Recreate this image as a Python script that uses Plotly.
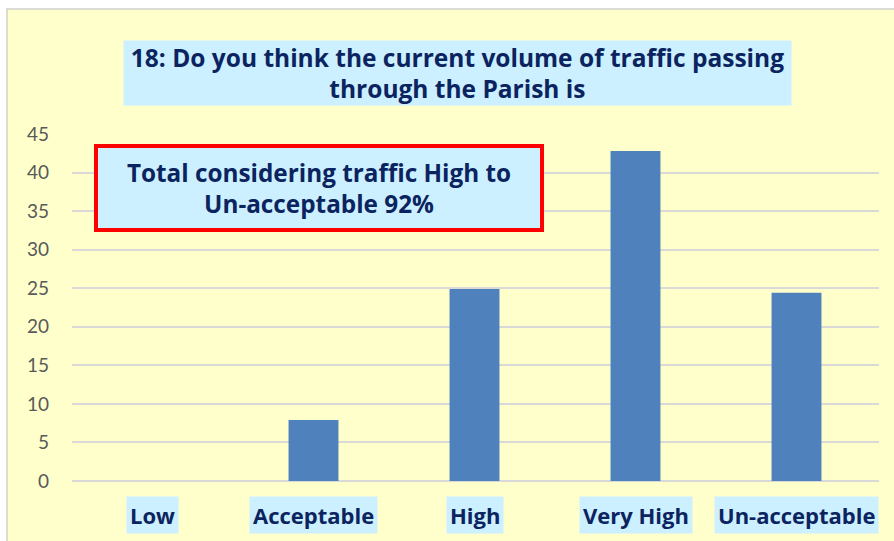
import plotly.graph_objects as go

categories = ["Low", "Acceptable", "High", "Very High", "Un-acceptable"]
values = [0, 7.9, 24.9, 42.8, 24.4]
y_ticks = [0, 5, 10, 15, 20, 25, 30, 35, 40, 45]
title_text = "18: Do you think the current volume of traffic passing<br>through the Parish is"
box_text = "Total considering traffic High to<br>Un-acceptable 92%"

W, H = 894, 541
L, R, T, B = 72, 15, 134, 60
PW, PH = W - L - R, H - T - B

def px(x):
    return (x - L) / PW

def py(y):
    return (H - B - y) / PH

NAVY = "#0B2460"
LIGHTBLUE = "#CCF0FF"
YELLOW = "#FFFFCC"
FONT = "Open Sans"

fig = go.Figure()
fig.add_trace(go.Bar(
    x=categories, y=values,
    marker=dict(color="#4F81BD", line=dict(width=0)),
    hoverinfo="x+y",
))

shapes = [
    dict(type="rect", xref="paper", yref="paper", x0=px(-5), x1=px(W + 5), y0=py(8.5), y1=py(-5),
         fillcolor="white", line=dict(width=0), layer="above"),
    dict(type="rect", xref="paper", yref="paper", x0=px(-5), x1=px(6), y0=py(H + 5), y1=py(-5),
         fillcolor="white", line=dict(width=0), layer="above"),
    dict(type="line", xref="paper", yref="paper", x0=px(6), x1=px(W + 5), y0=py(9), y1=py(9),
         line=dict(color="#D0D0D0", width=1.5), layer="above"),
    dict(type="line", xref="paper", yref="paper", x0=px(7), x1=px(7), y0=py(9), y1=py(H + 5),
         line=dict(color="#D0D0D0", width=1.5), layer="above"),
]

annotations = [
    dict(text="<b>" + title_text + "</b>", xref="paper", yref="paper",
         x=px(457.5), y=py(73.5), xanchor="center", yanchor="middle",
         showarrow=False, bgcolor=LIGHTBLUE, width=667, height=64, borderpad=0,
         font=dict(family=FONT, size=24.5, color=NAVY)),
    dict(text="<b>" + box_text + "</b>", xref="paper", yref="paper",
         x=px(319), y=py(188), xanchor="center", yanchor="middle",
         showarrow=False, bgcolor=LIGHTBLUE, bordercolor="#FF0000", borderwidth=4,
         width=442, height=80, borderpad=0,
         font=dict(family=FONT, size=24.3, color=NAVY)),
]
for c in categories:
    annotations.append(dict(
        text="<b>" + c + "</b>", xref="x", yref="paper", x=c, y=py(515),
        xanchor="center", yanchor="middle", showarrow=False,
        bgcolor=LIGHTBLUE, borderpad=3,
        font=dict(family=FONT, size=22, color=NAVY)))

fig.update_layout(
    width=W, height=H,
    margin=dict(l=L, r=R, t=T, b=B, pad=0),
    paper_bgcolor=YELLOW, plot_bgcolor=YELLOW,
    bargap=0.69, showlegend=False,
    shapes=shapes, annotations=annotations,
    font=dict(family=FONT),
)
fig.update_xaxes(showticklabels=False, showgrid=False, showline=False, ticks="")
fig.update_yaxes(range=[0, 45], tickvals=y_ticks, showgrid=True, gridcolor="#D9D9D9", gridwidth=1.5,
                 zeroline=True, zerolinecolor="#D9D9D9", zerolinewidth=1.5,
                 tickfont=dict(family="Lato", size=19, color="#595959"), ticklabelstandoff=22)

fig.write_html("out.html", config={"displayModeBar": False},
               post_script="document.body.style.margin='0';document.body.style.padding='0';")
